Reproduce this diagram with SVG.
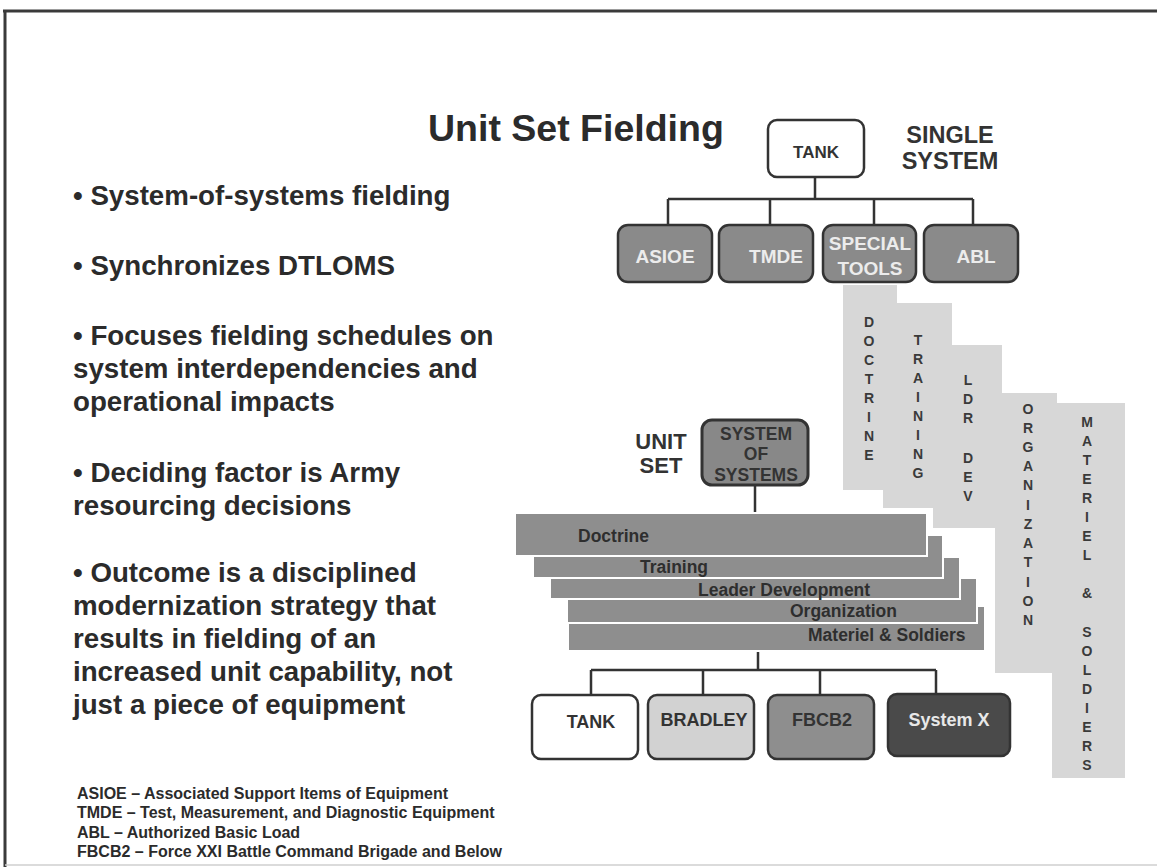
<svg xmlns="http://www.w3.org/2000/svg" width="1157" height="867" viewBox="0 0 1157 867">
<style>
text{font-family:"Liberation Sans",Arial,sans-serif;font-weight:bold;}
.bul{font-size:27.7px;fill:#2b2b2b;}
.note{font-size:16px;fill:#2b2b2b;}
.box{stroke:#333;stroke-width:2.5;}
.top{fill:#8a8a8a;}
.wt{fill:#ececec;font-size:19px;text-anchor:middle;}
.col{fill:#d7d7d7;}
.vl{font-size:14px;fill:#3a3a3a;text-anchor:middle;}
.bar{fill:#8e8e8e;stroke:#fff;stroke-width:2;}
.bt{font-size:17.5px;fill:#2e2e2e;}
.bb{font-size:18px;text-anchor:middle;fill:#333;}
.bbw{font-size:18px;text-anchor:middle;fill:#e8e8e8;}
.con{stroke:#333;stroke-width:2.5;fill:none;}
</style>
<rect width="1157" height="867" fill="#fff"/>
<g id="frame">
<line x1="3" y1="11" x2="1157" y2="11" stroke="#3a3a3a" stroke-width="3"/>
<line x1="5" y1="10" x2="5" y2="867" stroke="#3a3a3a" stroke-width="3"/>
<line x1="5" y1="865" x2="1157" y2="865" stroke="#cfcfcf" stroke-width="1.5"/>
</g>
<g id="title"><text x="428" y="141" font-size="37.5" fill="#2b2b2b">Unit Set Fielding</text></g>
<g id="bullets">
<text class="bul" x="73" y="205">• System-of-systems fielding</text>
<text class="bul" x="73" y="275">• Synchronizes DTLOMS</text>
<text class="bul" x="73" y="345">• Focuses fielding schedules on</text>
<text class="bul" x="73" y="378">system interdependencies and</text>
<text class="bul" x="73" y="411">operational impacts</text>
<text class="bul" x="73" y="482">• Deciding factor is Army</text>
<text class="bul" x="73" y="515">resourcing decisions</text>
<text class="bul" x="73" y="582">•  Outcome is a disciplined</text>
<text class="bul" x="73" y="615">modernization strategy that</text>
<text class="bul" x="73" y="648">results in fielding of an</text>
<text class="bul" x="73" y="681">increased unit capability, not</text>
<text class="bul" x="73" y="714">just a piece of equipment</text>
</g>
<g id="notes">
<text class="note" x="77" y="799">ASIOE – Associated Support Items of Equipment</text>
<text class="note" x="77" y="818">TMDE – Test, Measurement, and Diagnostic Equipment</text>
<text class="note" x="77" y="838">ABL – Authorized Basic Load</text>
<text class="note" x="77" y="857">FBCB2 – Force XXI Battle Command Brigade and Below</text>
</g>
<g id="columns">
<rect class="col" x="843" y="285" width="54" height="205"/>
<rect class="col" x="883" y="303" width="69" height="205"/>
<rect class="col" x="933" y="345" width="69" height="183"/>
<rect class="col" x="995" y="393" width="62" height="280"/>
<rect class="col" x="1052" y="403" width="73" height="375"/>
<g id="col-doctrine">
<text class="vl" x="869" y="327">D</text><text class="vl" x="869" y="346">O</text><text class="vl" x="869" y="365">C</text><text class="vl" x="869" y="384">T</text><text class="vl" x="869" y="403">R</text><text class="vl" x="869" y="422">I</text><text class="vl" x="869" y="441">N</text><text class="vl" x="869" y="460">E</text>
</g>
<g id="col-training">
<text class="vl" x="918" y="345">T</text><text class="vl" x="918" y="364">R</text><text class="vl" x="918" y="383">A</text><text class="vl" x="918" y="402">I</text><text class="vl" x="918" y="421">N</text><text class="vl" x="918" y="440">I</text><text class="vl" x="918" y="459">N</text><text class="vl" x="918" y="478">G</text>
</g>
<g id="col-ldrdev">
<text class="vl" x="968" y="385">L</text><text class="vl" x="968" y="404">D</text><text class="vl" x="968" y="423">R</text><text class="vl" x="968" y="463">D</text><text class="vl" x="968" y="482">E</text><text class="vl" x="968" y="501">V</text>
</g>
<g id="col-organization">
<text class="vl" x="1028" y="414">O</text><text class="vl" x="1028" y="433">R</text><text class="vl" x="1028" y="452">G</text><text class="vl" x="1028" y="471">A</text><text class="vl" x="1028" y="490">N</text><text class="vl" x="1028" y="510">I</text><text class="vl" x="1028" y="529">Z</text><text class="vl" x="1028" y="548">A</text><text class="vl" x="1028" y="567">T</text><text class="vl" x="1028" y="587">I</text><text class="vl" x="1028" y="606">O</text><text class="vl" x="1028" y="625">N</text>
</g>
<g id="col-materiel">
<text class="vl" x="1087" y="427">M</text><text class="vl" x="1087" y="446">A</text><text class="vl" x="1087" y="465">T</text><text class="vl" x="1087" y="484">E</text><text class="vl" x="1087" y="503">R</text><text class="vl" x="1087" y="522">I</text><text class="vl" x="1087" y="541">E</text><text class="vl" x="1087" y="560">L</text><text class="vl" x="1087" y="598">&amp;</text><text class="vl" x="1087" y="637">S</text><text class="vl" x="1087" y="656">O</text><text class="vl" x="1087" y="675">L</text><text class="vl" x="1087" y="694">D</text><text class="vl" x="1087" y="713">I</text><text class="vl" x="1087" y="732">E</text><text class="vl" x="1087" y="751">R</text><text class="vl" x="1087" y="770">S</text>
</g>
</g>
<g id="connectors">
<path class="con" d="M815 177V199M668 199H973M668 199V225M770 199V225M874 199V225M973 199V225"/>
<path class="con" d="M755 485V513"/>
<path class="con" d="M758 651V670M591 670H936M591 670V695M703 670V695M820 670V695M936 670V695"/>
</g>
<g id="tank-top"><rect class="box" x="768" y="120" width="96" height="57" rx="9" fill="#fff"/><text x="816" y="158" font-size="17" text-anchor="middle" fill="#333">TANK</text></g>
<g id="single-system-label"><text x="950" y="143" font-size="23.5" text-anchor="middle" fill="#333">SINGLE</text><text x="950" y="169" font-size="23.5" text-anchor="middle" fill="#333">SYSTEM</text></g>
<g id="asioe"><rect class="box top" x="618" y="225" width="94" height="57" rx="10"/><text class="wt" x="665" y="263">ASIOE</text></g>
<g id="tmde"><rect class="box top" x="719" y="225" width="94" height="57" rx="10"/><text class="wt" x="776" y="263">TMDE</text></g>
<g id="special-tools"><rect class="box top" x="823" y="225" width="93" height="57" rx="10"/><text class="wt" x="870" y="250">SPECIAL</text><text class="wt" x="870" y="275">TOOLS</text></g>
<g id="abl"><rect class="box top" x="924" y="225" width="94" height="57" rx="10"/><text class="wt" x="976" y="263">ABL</text></g>
<g id="unit-set-label"><text x="661" y="449" font-size="22" text-anchor="middle" fill="#333">UNIT</text><text x="661" y="473" font-size="22" text-anchor="middle" fill="#333">SET</text></g>
<g id="system-of-systems"><rect x="702" y="420" width="106" height="65" rx="10" fill="#888" stroke="#333" stroke-width="3"/><text x="756" y="440" font-size="17.5" text-anchor="middle" fill="#333">SYSTEM</text><text x="756" y="460" font-size="17.5" text-anchor="middle" fill="#333">OF</text><text x="756" y="481" font-size="17.5" text-anchor="middle" fill="#333">SYSTEMS</text></g>
<g id="bars">
<g id="bar-materiel"><rect class="bar" x="568" y="606" width="417" height="45"/><text class="bt" x="808" y="641">Materiel &amp; Soldiers</text></g>
<g id="bar-organization"><rect class="bar" x="567" y="578" width="410" height="45"/><text class="bt" x="790" y="617">Organization</text></g>
<g id="bar-leader"><rect class="bar" x="550" y="557" width="410" height="42"/><text class="bt" x="698" y="596">Leader Development</text></g>
<g id="bar-training"><rect class="bar" x="533" y="535" width="410" height="43"/><text class="bt" x="640" y="573">Training</text></g>
<g id="bar-doctrine"><rect class="bar" x="515" y="513" width="412" height="43"/><text class="bt" x="578" y="542">Doctrine</text></g>
</g>
<g id="tank-bottom"><rect class="box" x="532" y="695" width="106" height="64" rx="9" fill="#fff"/><text class="bb" x="591" y="728">TANK</text></g>
<g id="bradley"><rect class="box" x="648" y="695" width="106" height="64" rx="9" fill="#d2d2d2"/><text class="bb" x="704" y="726">BRADLEY</text></g>
<g id="fbcb2"><rect class="box" x="768" y="695" width="106" height="64" rx="9" fill="#8e8e8e"/><text class="bb" x="822" y="726">FBCB2</text></g>
<g id="systemx"><rect class="box" x="888" y="694" width="122" height="62" rx="9" fill="#4a4a4a"/><text class="bbw" x="949" y="726">System X</text></g>
</svg>
